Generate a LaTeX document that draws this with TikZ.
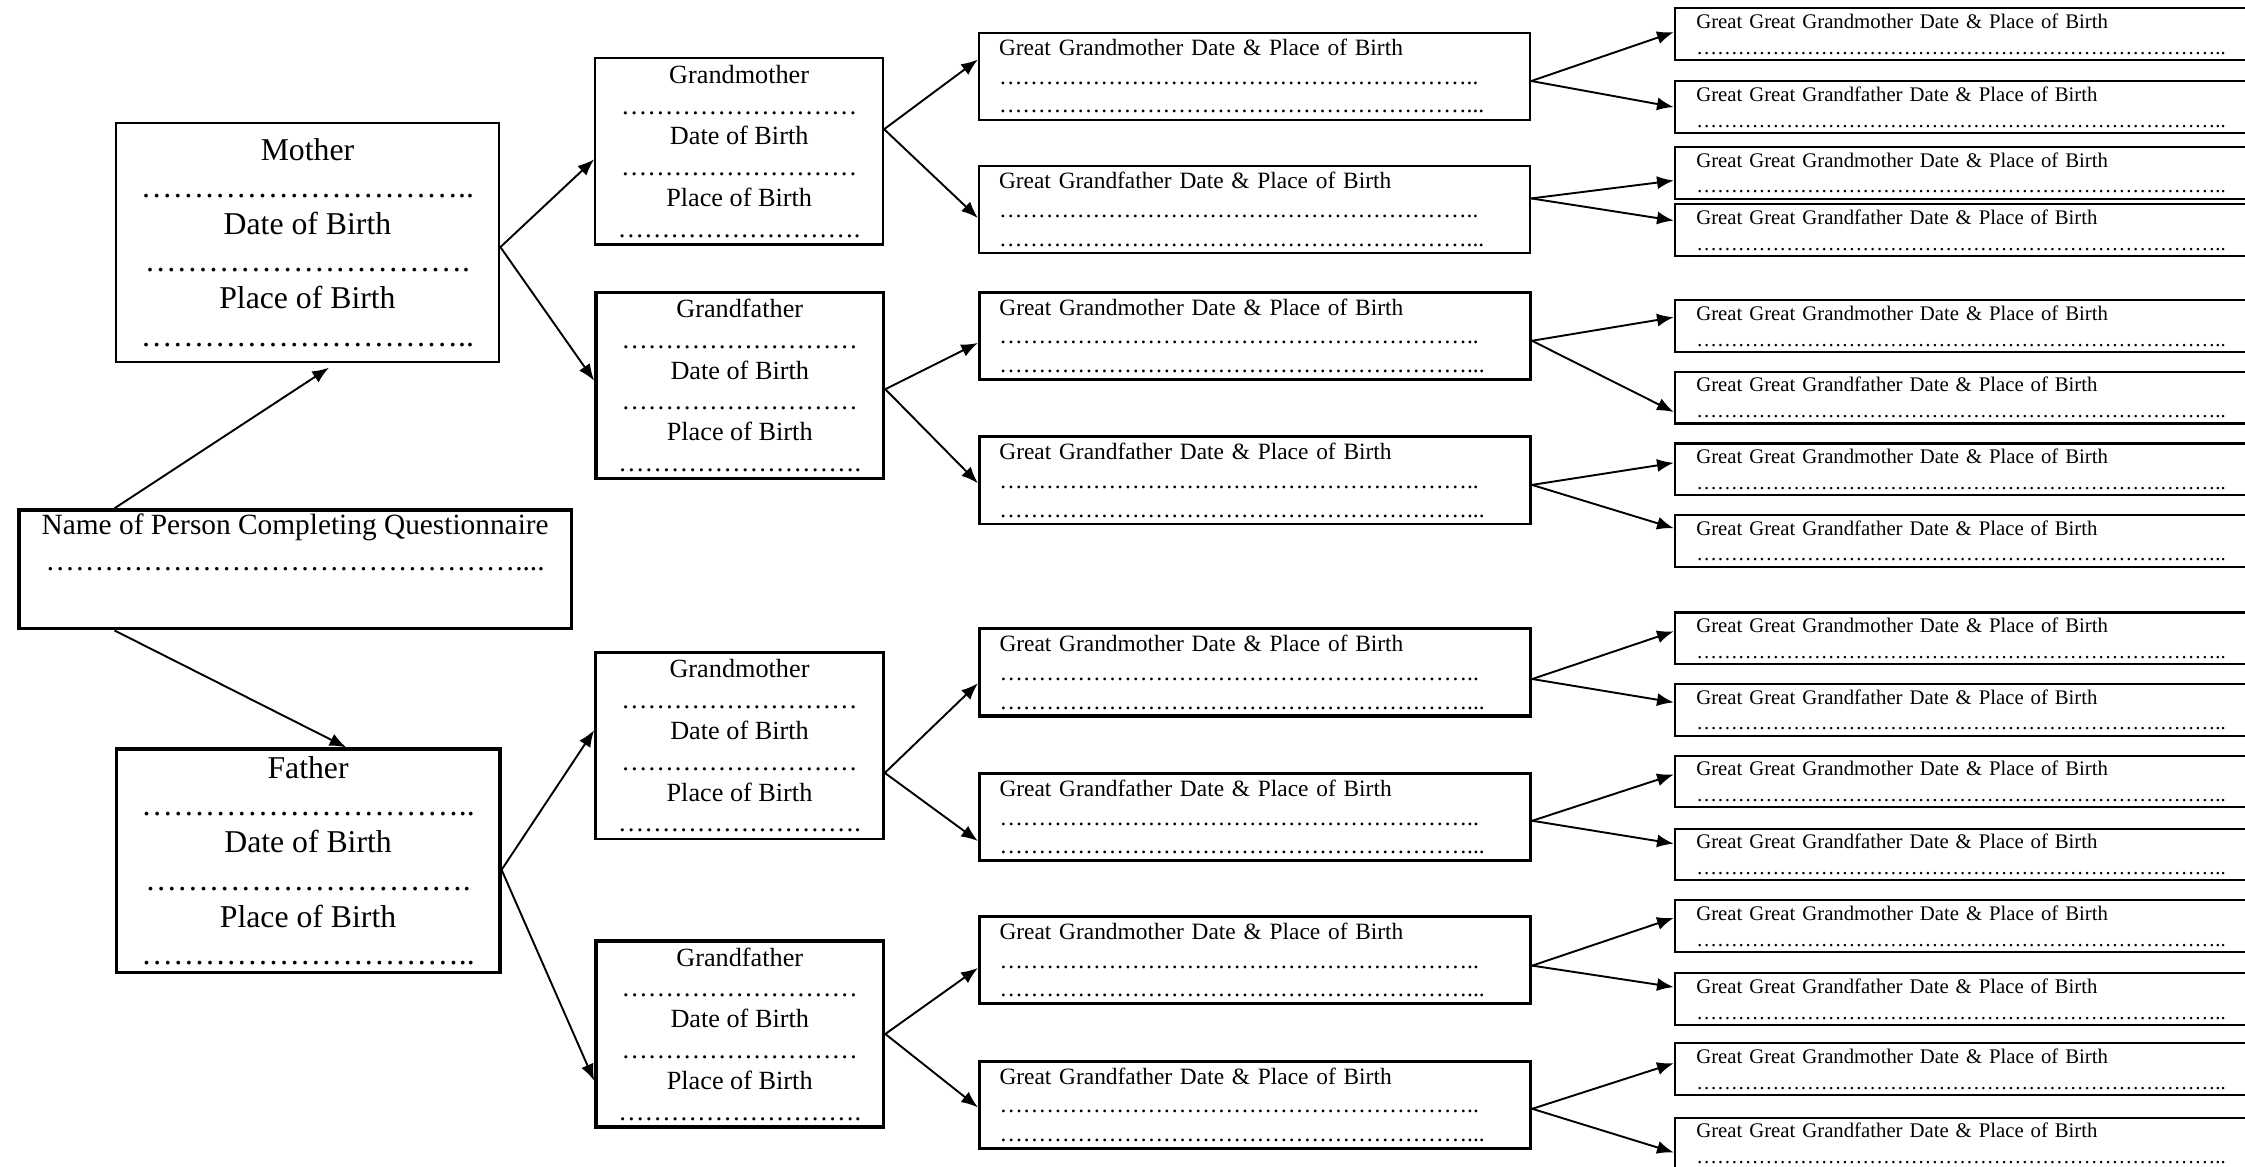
\documentclass[tikz,border=0pt]{standalone}
\usepackage{fontspec}
\setmainfont{Liberation Serif}
\usetikzlibrary{arrows.meta}

% a row of leader dots, #1 ellipses long
\newcommand{\dotrow}[1]{\foreach \k in {1,...,#1}{…}}

\begin{document}
\begin{tikzpicture}[x=0.6pt, y=-0.6pt,
        box/.style={draw, line width=0.9pt, anchor=north west, inner sep=0pt},
        parentbox/.style={box, align=center, minimum width=160.8pt, font=\fontsize{13.3}{15.6}\selectfont},
        grandbox/.style={box, align=center, minimum width=120.6pt, minimum height=78pt, font=\fontsize{11}{12.9}\selectfont},
        greatbox/.style={box, align=left, text width=214.2pt, inner xsep=8.4pt, minimum height=36.6pt, font=\fontsize{9.8}{12}\selectfont},
        ggreatbox/.style={box, align=left, text width=240.6pt, inner xsep=9pt, minimum height=21.6pt, font=\fontsize{8.7}{10.8}\selectfont},
        arr/.style={-{Latex[length=7pt,width=5.5pt]}, line width=0.8pt}]
        \useasboundingbox (0,0) rectangle (1568,815);
        \clip (0,0) rectangle (1568,815);

        \node[box, align=center, minimum width=231.6pt, minimum height=49.8pt, line width=1.4pt, font=\fontsize{12.3}{15}\selectfont](p) at (12,355){Name of Person Completing Questionnaire\\ \dotrow{16}....\\[7.5pt] ~};

        \node[parentbox, minimum height=100.2pt](m) at (80,85){Mother\\ \dotrow{10}..\\ Date of Birth\\ \dotrow{10}.\\ Place of Birth\\ \dotrow{10}..};
        \node[parentbox, minimum height=93.6pt, line width=1.4pt](f) at (80,522){Father\\ \dotrow{10}..\\ Date of Birth\\ \dotrow{10}.\\ Place of Birth\\ \dotrow{10}..};

        \node[grandbox](gm1) at (415,40){Grandmother\\ \dotrow{9}\\ Date of Birth\\ \dotrow{9}\\ Place of Birth\\ \dotrow{9}.};
        \node[grandbox, line width=1.4pt](gf1) at (415,203){Grandfather\\ \dotrow{9}\\ Date of Birth\\ \dotrow{9}\\ Place of Birth\\ \dotrow{9}.};
        \node[grandbox, line width=1.2pt](gm2) at (415,455){Grandmother\\ \dotrow{9}\\ Date of Birth\\ \dotrow{9}\\ Place of Birth\\ \dotrow{9}.};
        \node[grandbox, line width=1.4pt](gf2) at (415,656){Grandfather\\ \dotrow{9}\\ Date of Birth\\ \dotrow{9}\\ Place of Birth\\ \dotrow{9}.};

        \node[greatbox](g1) at (683,22){Great Grandmother Date \& Place of Birth\\ \dotrow{20}..\\ \dotrow{20}...};
        \node[greatbox](g2) at (683,115){Great Grandfather Date \& Place of Birth\\ \dotrow{20}..\\ \dotrow{20}...};
        \node[greatbox, line width=1.2pt](g3) at (683,203){Great Grandmother Date \& Place of Birth\\ \dotrow{20}..\\ \dotrow{20}...};
        \node[greatbox, line width=1.2pt](g4) at (683,304){Great Grandfather Date \& Place of Birth\\ \dotrow{20}..\\ \dotrow{20}...};
        \node[greatbox, line width=1.3pt](g5) at (683,438){Great Grandmother Date \& Place of Birth\\ \dotrow{20}..\\ \dotrow{20}...};
        \node[greatbox, line width=1.3pt](g6) at (683,539){Great Grandfather Date \& Place of Birth\\ \dotrow{20}..\\ \dotrow{20}...};
        \node[greatbox, line width=1.3pt](g7) at (683,639){Great Grandmother Date \& Place of Birth\\ \dotrow{20}..\\ \dotrow{20}...};
        \node[greatbox, line width=1.3pt](g8) at (683,740){Great Grandfather Date \& Place of Birth\\ \dotrow{20}..\\ \dotrow{20}...};

        \node[ggreatbox](h1) at (1169,5){Great Great Grandmother Date \& Place of Birth\\ \dotrow{25}..};
        \node[ggreatbox](h2) at (1169,56){Great Great Grandfather Date \& Place of Birth\\ \dotrow{25}..};
        \node[ggreatbox](h3) at (1169,102){Great Great Grandmother Date \& Place of Birth\\ \dotrow{25}..};
        \node[ggreatbox](h4) at (1169,142){Great Great Grandfather Date \& Place of Birth\\ \dotrow{25}..};
        \node[ggreatbox](h5) at (1169,209){Great Great Grandmother Date \& Place of Birth\\ \dotrow{25}..};
        \node[ggreatbox](h6) at (1169,259){Great Great Grandfather Date \& Place of Birth\\ \dotrow{25}..};
        \node[ggreatbox](h7) at (1169,309){Great Great Grandmother Date \& Place of Birth\\ \dotrow{25}..};
        \node[ggreatbox](h8) at (1169,359){Great Great Grandfather Date \& Place of Birth\\ \dotrow{25}..};
        \node[ggreatbox](h9) at (1169,427){Great Great Grandmother Date \& Place of Birth\\ \dotrow{25}..};
        \node[ggreatbox](h10) at (1169,477){Great Great Grandfather Date \& Place of Birth\\ \dotrow{25}..};
        \node[ggreatbox](h11) at (1169,527){Great Great Grandmother Date \& Place of Birth\\ \dotrow{25}..};
        \node[ggreatbox](h12) at (1169,578){Great Great Grandfather Date \& Place of Birth\\ \dotrow{25}..};
        \node[ggreatbox](h13) at (1169,628){Great Great Grandmother Date \& Place of Birth\\ \dotrow{25}..};
        \node[ggreatbox](h14) at (1169,679){Great Great Grandfather Date \& Place of Birth\\ \dotrow{25}..};
        \node[ggreatbox](h15) at (1169,728){Great Great Grandmother Date \& Place of Birth\\ \dotrow{25}..};
        \node[ggreatbox](h16) at (1169,780){Great Great Grandfather Date \& Place of Birth\\ \dotrow{25}..};

        \path[arr]
        (p.north -| m.west) edge ([xshift=9pt, yshift=-2pt]m.south)
        (p.south -| f.west) edge ([xshift=16pt]f.north)
        ([yshift=-2pt]m.east) edge ([yshift=-3.3pt]gm1.west)
        ([yshift=-2pt]m.east) edge ([yshift=2pt]gf1.west)
        ([yshift=-3.8pt]f.east) edge ([yshift=6.6pt]gm2.west)
        ([yshift=-3.8pt]f.east) edge ([yshift=-19.6pt]gf2.west);

        \path[arr]
        ([yshift=9.3pt]gm1.east) edge ([yshift=7pt]g1.west)
        ([yshift=9.3pt]gm1.east) edge ([yshift=-3.6pt]g2.west)
        ([yshift=-1.6pt]gf1.east) edge ([yshift=-3pt]g3.west)
        ([yshift=-1.6pt]gf1.east) edge ([yshift=-1.2pt]g4.west)
        ([yshift=-11.3pt]gm2.east) edge ([yshift=-4.6pt]g5.west)
        ([yshift=-11.3pt]gm2.east) edge ([yshift=-10.1pt]g6.west)
        (gf2.east) edge ([yshift=-3.3pt]g7.west)
        (gf2.east) edge ([yshift=-1.1pt]g8.west);

        \path[arr]
        ([yshift=-2pt]g1.east) edge ([yshift=0.8pt]h1.west)
        ([yshift=-2pt]g1.east) edge (h2.west)
        ([yshift=4.6pt]g2.east) edge ([yshift=-3.2pt]h3.west)
        ([yshift=4.6pt]g2.east) edge ([yshift=4pt]h4.west)
        ([yshift=-2.1pt]g3.east) edge ([yshift=3.7pt]h5.west)
        ([yshift=-2.1pt]g3.east) edge ([yshift=-6pt]h6.west)
        ([yshift=-1.9pt]g4.east) edge ([yshift=2.7pt]h7.west)
        ([yshift=-1.9pt]g4.east) edge ([yshift=5.3pt]h8.west)
        ([yshift=-2.8pt]g5.east) edge ([yshift=2.9pt]h9.west)
        ([yshift=-2.8pt]g5.east) edge ([yshift=3.1pt]h10.west)
        ([yshift=-1.6pt]g6.east) edge ([yshift=2.9pt]h11.west)
        ([yshift=-1.6pt]g6.east) edge ([yshift=4.5pt]h12.west)
        ([yshift=-2.3pt]g7.east) edge ([yshift=3.4pt]h13.west)
        ([yshift=-2.3pt]g7.east) edge ([yshift=5pt]h14.west)
        ([yshift=-1.7pt]g8.east) edge ([yshift=2.5pt]h15.west)
        ([yshift=-1.7pt]g8.east) edge ([yshift=-3.7pt]h16.west);
    \end{tikzpicture}
\end{document}
